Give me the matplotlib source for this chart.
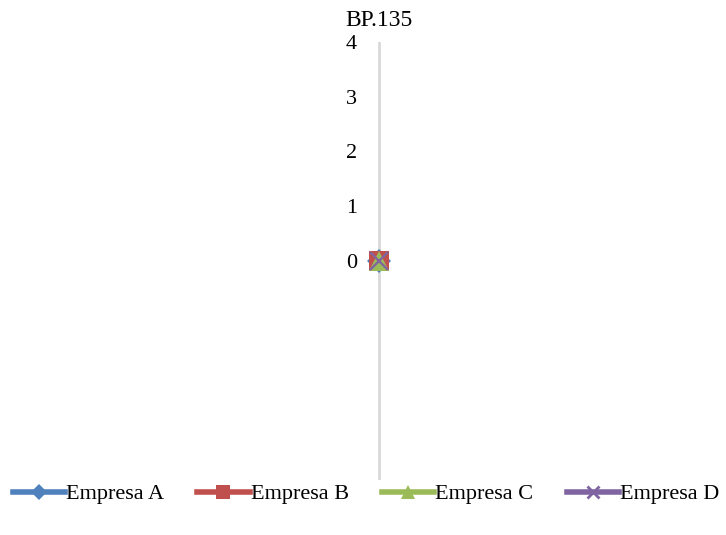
import matplotlib
matplotlib.use("Agg")
import matplotlib.pyplot as plt

plt.rcParams['font.family'] = ['Liberation Serif', 'DejaVu Serif']

category = "BP.135"
series_names = ["Empresa A", "Empresa B", "Empresa C", "Empresa D"]
series_values = [0, 0, 0, 0]
colors = ["#4F81BD", "#C0504D", "#9BBB59", "#8064A2"]
markers = ["D", "s", "^", "x"]
tick_values = [0, 1, 2, 3, 4]

fig = plt.figure(figsize=(7.26, 5.35), dpi=100)
ax = fig.add_axes([(379 - 150) / 726, 55 / 535, 300 / 726, 438 / 535])
ax.set_xlim(-1, 1)
ax.set_ylim(-4, 4)

# single spoke: draw the axis line from -4 up to 4
ax.plot([0, 0], [-4, 4], color="#D9D9D9", lw=2, zorder=1)

marker_size = {"D": 12, "s": 14, "^": 14, "x": 13}
for name, val, c, m in zip(series_names, series_values, colors, markers):
    mew = 1.6 if m == "x" else 0
    ax.plot([0], [val], marker=m, color=c, markersize=marker_size[m],
            markeredgewidth=mew, markeredgecolor=c, lw=4,
            label=name, zorder=3)

ax.set_yticks(tick_values)
ax.set_yticklabels([str(t) for t in tick_values])
ax.set_xticks([])
for s in ax.spines.values():
    s.set_visible(False)
ax.spines['left'].set_position(('data', 0))
ax.tick_params(axis='y', length=0, pad=16, labelsize=16)

fig.text(379 / 726, 1 - 20 / 535, category, ha='center', va='center', fontsize=17)

leg_handles = []
for c, m in zip(colors, markers):
    ms = 10 if m in ("s", "^") else 8
    mew = 2 if m == "x" else 0
    leg_handles.append(plt.Line2D([], [], color=c, lw=4, marker=m, markersize=ms,
                                  markeredgewidth=mew, markeredgecolor=c))
fig.legend(leg_handles, series_names, loc='center', bbox_to_anchor=(366 / 726, 1 - 494 / 535),
           ncol=4, frameon=False, fontsize=16, handlelength=2.35, handletextpad=0.05,
           columnspacing=1.5)

fig.savefig("out.png", dpi=100)
